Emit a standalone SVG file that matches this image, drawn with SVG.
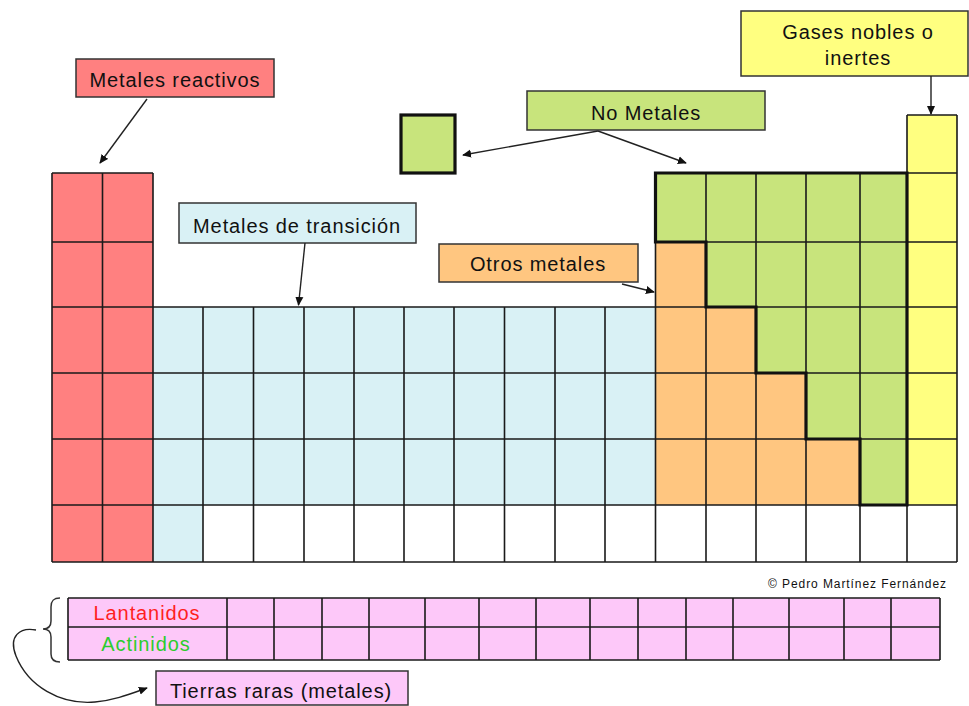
<svg xmlns="http://www.w3.org/2000/svg" width="969" height="706" viewBox="0 0 969 706">
<style>
.lbl{font-family:"Liberation Sans",Arial,sans-serif;font-size:20px;letter-spacing:0.9px;fill:#111;text-anchor:middle}
.box{stroke:#333;stroke-width:1.5}
.grid{fill:none;stroke:#1a1a1a;stroke-width:1.6}
.thick{fill:none;stroke:#111;stroke-width:3.2;stroke-linejoin:miter}
.arrow{fill:none;stroke:#222;stroke-width:1.4;marker-end:url(#ah)}
.red{fill:#ff8080}.blue{fill:#d9f1f5}.green{fill:#c8e47c}.orange{fill:#ffc680}.yellow{fill:#ffff80}.pink{fill:#fdc8f9}
</style>
<defs>
<marker id="ah" viewBox="0 0 10 10" refX="9" refY="5" markerWidth="9" markerHeight="9" markerUnits="userSpaceOnUse" orient="auto">
<path d="M0,0.5 L10,5 L0,9.5 Z" fill="#111"/>
</marker>
</defs>
<rect width="969" height="706" fill="#fff"/>

<g id="main-table">
  <rect class="red" x="52" y="173" width="101" height="389"/>
  <rect class="blue" x="153" y="307" width="502.5" height="198"/>
  <rect class="blue" x="153" y="505" width="50" height="57"/>
  <rect class="orange" x="655.5" y="242" width="251.5" height="263"/>
  <path class="green" d="M655.5,173 H907 V505 H860 V439 H806 V373 H756 V307 H706 V242 H655.5 Z"/>
  <rect class="yellow" x="907" y="115" width="50" height="390"/>
  <path class="grid" d="M907,115H957 M52,173H153 M655.5,173H957 M52,242H153 M655.5,242H957 M52,307H957 M52,373H957 M52,439H957 M52,505H957 M52,562H957
  M52,173V562 M102.5,173V562 M153,173V562 M203,307V562 M253.5,307V562 M304,307V562 M354,307V562 M404,307V562 M454,307V562 M504.5,307V562 M555,307V562 M605,307V562 M655.5,173V562 M706,173V562 M756,173V562 M806,173V562 M860,173V562 M907,115V562 M957,115V562"/>
  <path class="thick" d="M655.5,173 H907 V505 H860 V439 H806 V373 H756 V307 H706 V242 H655.5 Z"/>
</g>

<g id="nonmetal-square">
  <rect class="green" x="401" y="115" width="54" height="58" stroke="#111" stroke-width="3.2"/>
</g>

<g id="label-reactivos">
  <rect class="red box" x="76" y="59" width="198" height="38"/>
  <text class="lbl" x="175" y="87">Metales reactivos</text>
</g>
<g id="label-transicion">
  <rect class="blue box" x="179" y="203" width="237" height="40"/>
  <text class="lbl" x="297" y="233">Metales de transición</text>
</g>
<g id="label-nometales">
  <rect class="green box" x="527" y="91" width="238" height="39"/>
  <text class="lbl" x="646" y="120">No Metales</text>
</g>
<g id="label-gases">
  <rect class="yellow box" x="741" y="11" width="227" height="65"/>
  <text class="lbl" x="858" y="39">Gases nobles o</text>
  <text class="lbl" x="858" y="65">inertes</text>
</g>
<g id="label-otros">
  <rect class="orange box" x="439" y="244" width="199" height="38"/>
  <text class="lbl" x="538" y="271">Otros metales</text>
</g>

<g id="rare-earth-table">
  <rect class="pink" x="68" y="598" width="872" height="62"/>
  <path class="grid" d="M68,598H940 M68,627H940 M68,660H940 M68,598V660 M227,598V660 M274,598V660 M322,598V660 M369,598V660 M425,598V660 M479,598V660 M536,598V660 M590,598V660 M638,598V660 M686,598V660 M733,598V660 M789,598V660 M844,598V660 M891,598V660 M940,598V660"/>
  <text class="lbl" x="147" y="620" style="fill:#ff1f1f">Lantanidos</text>
  <text class="lbl" x="146" y="651" style="fill:#2ecc2e">Actinidos</text>
</g>
<g id="brace">
  <path d="M60,598 C53,598 51,601 51,607 L51,621 C51,626 48,629 43,629 C48,629 51,632 51,637 L51,654 C51,659 53,662 60,662" fill="none" stroke="#333" stroke-width="1.5"/>
</g>
<g id="label-tierras">
  <rect class="pink box" x="156" y="671" width="252" height="34"/>
  <text class="lbl" x="281" y="698">Tierras raras (metales)</text>
</g>

<text id="copyright" x="768" y="588" font-family="'Liberation Sans',Arial,sans-serif" font-size="12" fill="#111" textLength="178" lengthAdjust="spacing">© Pedro Martínez Fernández</text>

<g id="connectors">
  <path class="arrow" d="M147,99 L100,163"/>
  <path class="arrow" d="M305,243 L298.5,305"/>
  <path class="arrow" d="M598,131 L463,155"/>
  <path class="arrow" d="M598,131 L686,163"/>
  <path class="arrow" d="M931,76 L931,114"/>
  <path class="arrow" d="M622,284 L654,292"/>
  <path class="arrow" d="M36,630 C20,627 8,636 16,656 C28,686 60,705 95,702 C115,700 130,694 147,688"/>
</g>
</svg>
